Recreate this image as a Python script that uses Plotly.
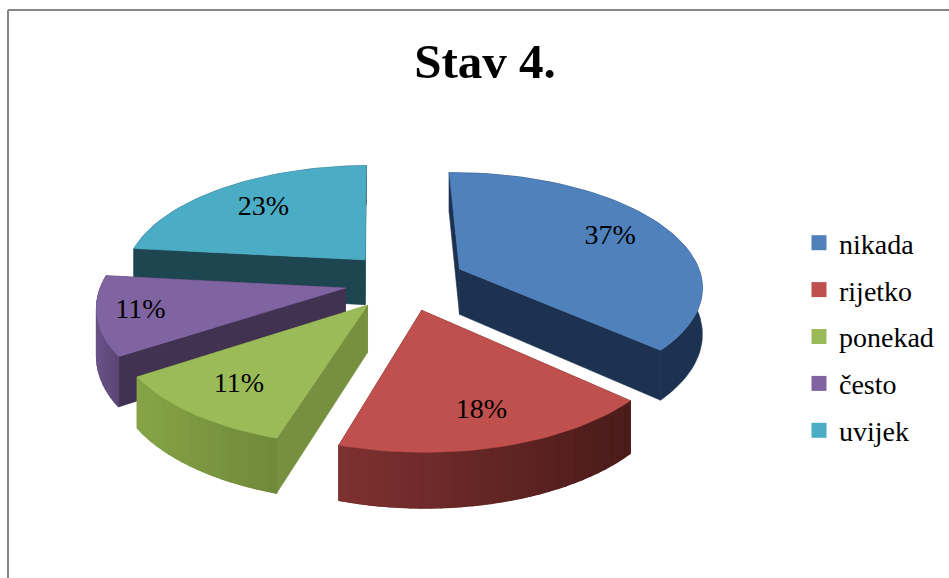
import math
import plotly.graph_objects as go

categories = ["nikada", "rijetko", "ponekad", "često", "uvijek"]
values = [37, 18, 11, 11, 23]
labels = ["37%", "18%", "11%", "11%", "23%"]

TOP = ["#4F81BD", "#C0504D", "#9BBB59", "#8064A2", "#4BACC6"]
RADIAL = ["#1D3250", "#4E1D1C", "#76903F", "#423252", "#1D4650"]
WALL_LEFT = ["#1D3250", "#7E3130", "#86A447", "#6A5388", "#1D4650"]
WALL_RIGHT = ["#1D3250", "#4A1B1A", "#6E893A", "#5A4674", "#1D4650"]
PAINT_ORDER = [4, 3, 0, 2, 1]
LABEL_FRAC = [0.73, 0.77, 0.76, 0.83, 0.7]

CX, CY, RX, RY, K, DEPTH, PULL_U, PULL_V, START = 405, 281, 243, 113, 0.14, 46, 0.25, 0.26, -1


def project(u, v, z=0.0):
    s = 1 / (1 - K * v)
    return CX + RX * u * s, CY + RY * v * s + DEPTH * s * z


def poly(points, color, fig, width=0.6):
    xs = [p[0] for p in points] + [points[0][0]]
    ys = [p[1] for p in points] + [points[0][1]]
    fig.add_trace(go.Scatter(x=xs, y=ys, mode="lines", fill="toself", fillcolor=color,
                             line=dict(color=color, width=width), showlegend=False, hoverinfo="skip"))


def mix(a, b, t):
    pa = [int(a[i:i + 2], 16) for i in (1, 3, 5)]
    pb = [int(b[i:i + 2], 16) for i in (1, 3, 5)]
    return "rgb(%d,%d,%d)" % tuple(round(x + (y - x) * t) for x, y in zip(pa, pb))


total = sum(values)
spans = []
acc = START
for val in values:
    spans.append((acc, acc + 360 * val / total))
    acc += 360 * val / total

fig = go.Figure()
text_x, text_y = [0] * len(values), [0] * len(values)

for i in PAINT_ORDER:
    t0, t1 = spans[i]
    mid = math.radians((t0 + t1) / 2)
    pu, pv = PULL_U * math.sin(mid), -PULL_V * math.cos(mid)
    n = max(4, int((t1 - t0) / 2))
    angles = [math.radians(t0 + (t1 - t0) * j / n) for j in range(n + 1)]
    rim = [(pu + math.sin(a), pv - math.cos(a)) for a in angles]

    # radial walls
    for r in (rim[0], rim[-1]):
        poly([project(pu, pv), project(*r), project(*r, 1), project(pu, pv, 1)], RADIAL[i], fig)

    # outer wall: one base polygon, then gradient bands when the wall has a gradient
    base = [project(*p) for p in rim] + [project(*p, 1) for p in reversed(rim)]
    poly(base, mix(WALL_LEFT[i], WALL_RIGHT[i], 0.5), fig)
    if WALL_LEFT[i] != WALL_RIGHT[i]:
        xs_front = [project(*p)[0] for p in rim]
        lo, hi = min(xs_front), max(xs_front)
        for j in range(n):
            tt = ((xs_front[j] + xs_front[j + 1]) / 2 - lo) / max(hi - lo, 1)
            poly([project(*rim[j]), project(*rim[j + 1]), project(*rim[j + 1], 1), project(*rim[j], 1)],
                 mix(WALL_LEFT[i], WALL_RIGHT[i], tt), fig, 1.2)

    # top face
    poly([project(pu, pv)] + [project(*p) for p in rim], TOP[i], fig)

    f = LABEL_FRAC[i]
    text_x[i], text_y[i] = project(pu + f * math.sin(mid), pv - f * math.cos(mid))

fig.add_trace(go.Scatter(x=text_x, y=text_y, text=labels, mode="text", showlegend=False, hoverinfo="skip",
                         textfont=dict(family="Liberation Serif", size=28, color="#000000")))

for i, name in enumerate(categories):
    fig.add_trace(go.Scatter(x=[None], y=[None], mode="markers", name=name, legendgroup=name,
                             marker=dict(symbol="square", size=15, color=TOP[i])))

for x0, y0, x1, y1 in [(8, 10, 949, 10), (8, 10, 8, 578)]:
    fig.add_shape(type="line", x0=x0, y0=y0, x1=x1, y1=y1, line=dict(color="#868686", width=2), layer="below")

fig.update_layout(
    width=949, height=578, autosize=False,
    margin=dict(l=0, r=0, t=0, b=0),
    paper_bgcolor="white", plot_bgcolor="white",
    title=dict(text="<b>Stav 4.</b>", x=0.511, xanchor="center", y=0.895, yanchor="middle",
               font=dict(family="Liberation Serif", size=49, color="#000000")),
    xaxis=dict(range=[0, 949], visible=False, fixedrange=True),
    yaxis=dict(range=[578, 0], visible=False, fixedrange=True),
    legend=dict(x=799 / 949, y=1 - 218 / 578, xanchor="left", yanchor="top",
                font=dict(family="Liberation Serif", size=28, color="#000000"),
                tracegroupgap=7.5, bgcolor="rgba(0,0,0,0)", itemclick=False, itemdoubleclick=False),
    hovermode=False,
)
fig.write_html("out.html", config={"displayModeBar": False},
               post_script="document.body.style.margin='0';document.body.style.overflow='hidden';")
